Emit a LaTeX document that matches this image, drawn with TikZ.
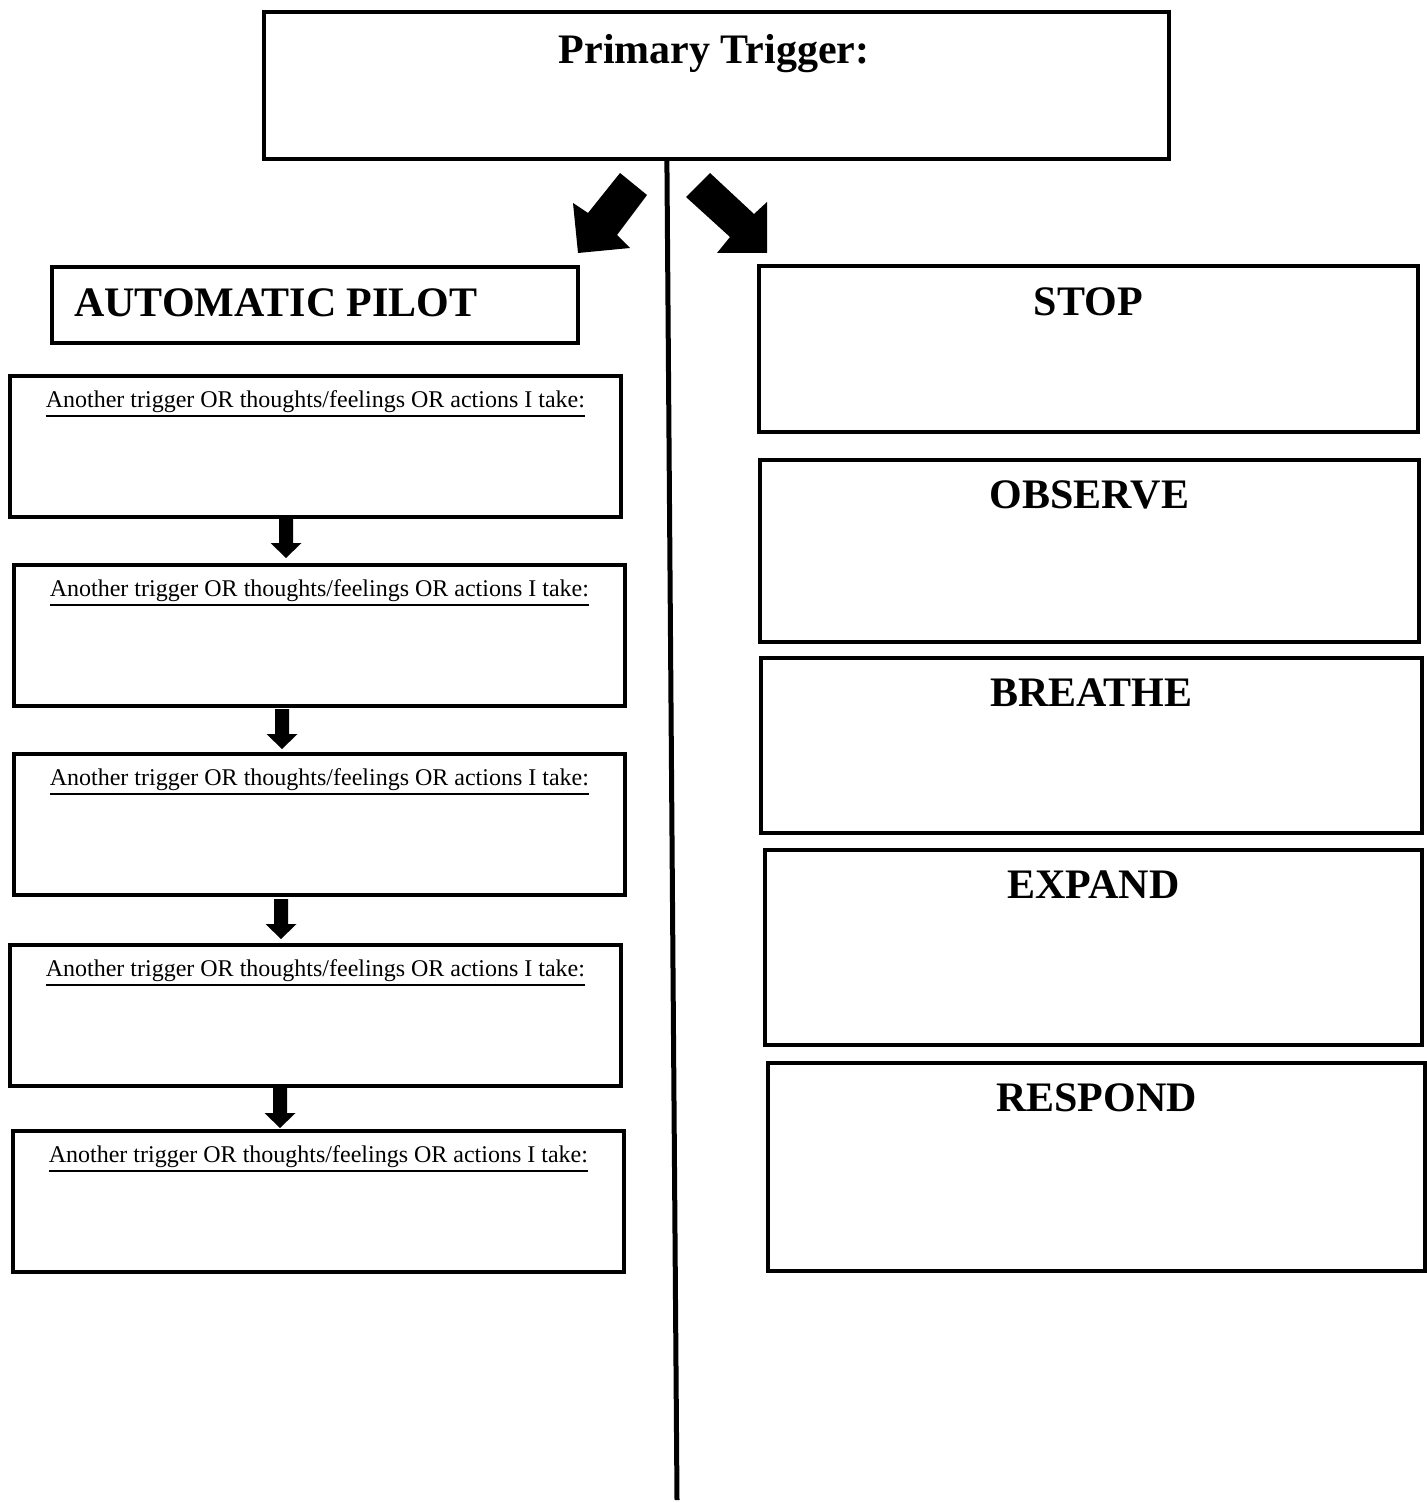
\documentclass[tikz,border=0pt]{standalone}
\usepackage{fontspec}
\setmainfont{Liberation Serif}
\newcommand\ulthick[1]{\leavevmode\vtop{\hbox{#1}\kern2.5pt\hrule height 1.8pt}}
\begin{document}
\begin{tikzpicture}[x=1pt,y=-1pt,
  box/.style={draw=black,line width=3.8pt,inner sep=0pt,anchor=north west},
  big/.style={font=\fontsize{42}{48}\selectfont\bfseries,inner sep=0pt},
  small/.style={font=\fontsize{24}{28}\selectfont,inner sep=0pt}]
\useasboundingbox (0,0) rectangle (1426,1503);
% primary box
\node[box,minimum width=905pt,minimum height=147pt] (P) at (262,10) {};
\node[big] (Pt) at (714,54) {Primary Trigger:};
% centre line
\coordinate (lineend) at (677,1500);
\draw[line width=5pt] ([xshift=-49.5pt]P.south) -- (lineend);
% block arrows
\fill (620,173) -- (647,195) -- (617,235) -- (630,248) -- (578,253) -- (573,203) -- (588,213) -- cycle;
\fill (710,173) -- (686,197) -- (730,237) -- (717,253) -- (767,253) -- (767,202) -- (754,214) -- cycle;
% automatic pilot
\node[box,minimum width=526pt,minimum height=76pt] (AP) at (50,265) {};
\node[big,anchor=west] (APt) at (74,303) {AUTOMATIC PILOT};
% left boxes
\foreach \n/\x/\y in {1/8/374,2/12/563,3/12/752,4/8/943,5/11/1129}{
  \node[box,minimum width=611pt,minimum height=141pt] (L\n) at (\x,\y) {};
  \node[small] (L\n t) at ([yshift=-30pt]L\n.north) {\ulthick{Another trigger OR thoughts/feelings OR actions I take:}};
}
% down arrows
\foreach \x/\y in {286/518,282/709,281/899,280/1088}{
  \begin{scope}[shift={(\x,\y)}]
  \fill (-7,0) -- (7,0) -- (7,25) -- (15.5,25) -- (0,40) -- (-15.5,25) -- (-7,25) -- cycle;
  \end{scope}
}
% right boxes
\node[box,minimum width=659pt,minimum height=166pt] (S) at (757,264) {};
\node[big] (St) at ([yshift=-38pt]S.north) {STOP};
\node[box,minimum width=659pt,minimum height=182pt] (O) at (758,458) {};
\node[big] (Ot) at ([yshift=-37pt]O.north) {OBSERVE};
\node[box,minimum width=661pt,minimum height=175pt] (B) at (759,656) {};
\node[big] (Bt) at ([yshift=-37pt]B.north) {BREATHE};
\node[box,minimum width=657pt,minimum height=195pt] (E) at (763,848) {};
\node[big] (Et) at ([yshift=-37pt]E.north) {EXPAND};
\node[box,minimum width=657pt,minimum height=208pt] (R) at (766,1061) {};
\node[big] (Rt) at ([yshift=-37pt]R.north) {RESPOND};
\end{tikzpicture}
\end{document}
